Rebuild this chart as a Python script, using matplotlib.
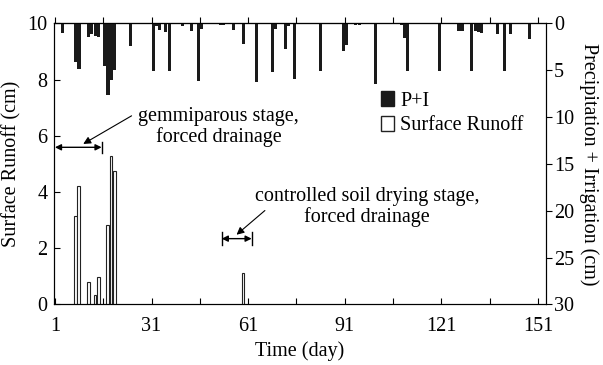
import matplotlib.pyplot as plt
from matplotlib.patches import Patch

plt.rcParams['font.family'] = ['Liberation Serif', 'DejaVu Serif']
plt.rcParams['font.size'] = 14.5

# precipitation + irrigation (cm), day -> depth
pi_days = [3, 7, 8, 11, 12, 13, 14, 16, 17, 18, 19, 24, 31, 32, 33, 35, 36, 40,
           43, 45, 46, 52, 53, 56, 59, 63, 68, 69, 72, 73, 75, 83, 90, 91, 94,
           95, 100, 108, 109, 110, 115, 120, 126, 127, 130, 131, 132, 133, 138,
           140, 142, 148, 149, 150]
pi_vals = [1.05, 4.1, 4.9, 1.5, 1.1, 1.35, 1.45, 4.6, 7.7, 6.0, 5.0, 2.4, 5.1,
           0.3, 0.7, 0.9, 5.1, 0.3, 0.8, 6.1, 0.6, 0.2, 0.2, 0.7, 2.2, 6.3,
           5.2, 0.6, 2.7, 0.3, 5.9, 5.1, 3.0, 2.3, 0.2, 0.2, 6.5, 0.2, 1.6,
           5.1, 0.1, 5.1, 0.8, 0.8, 5.1, 0.8, 0.9, 1.0, 1.1, 5.1, 1.1, 1.7,
           0.1, 0.1]

# surface runoff (cm)
ro_days = [7, 8, 11, 13, 14, 17, 18, 19, 59]
ro_vals = [3.14, 4.2, 0.8, 0.33, 0.98, 2.84, 5.27, 4.76, 1.12]

xticks = list(range(1, 152, 15))
xlabels = [str(t) if (t - 1) % 30 == 0 else '' for t in xticks]

fig = plt.figure(figsize=(6.03, 3.65), dpi=100)
ax = fig.add_axes([0.090, 0.166, 0.815, 0.770])
ax2 = ax.twinx()

ax.bar(ro_days, ro_vals, width=0.85, align='edge', facecolor='white',
       edgecolor='#222222', linewidth=0.8, zorder=3)
ax2.bar(pi_days, pi_vals, width=0.95, align='edge', color='#1a1a1a',
        linewidth=0)

ax.set_xlim(0.8, 153.4)
ax.set_ylim(0, 10)
ax2.set_ylim(30, 0)
ax.set_xticks(xticks)
ax.set_xticklabels(xlabels)
ax.set_yticks(range(0, 11, 2))
ax2.set_yticks(range(0, 31, 5))
ax.tick_params(axis='both', direction='in', length=4, width=0.8)
ax.tick_params(axis='x', pad=9)
ax.tick_params(axis='y', pad=5)
ax2.tick_params(axis='y', direction='out', length=4, width=0.8, pad=2)
top = ax.secondary_xaxis('top')
top.set_xticks(xticks)
top.set_xticklabels([])
top.tick_params(direction='out', length=4, width=0.8)

ax.set_xlabel('Time (day)', labelpad=4)
ax.set_ylabel('Surface Runoff (cm)', labelpad=4)
ax2.set_ylabel('Precipitation + Irrigation (cm)', rotation=-90, labelpad=18)

for s in ['left', 'right', 'bottom', 'top']:
    ax.spines[s].set_linewidth(0.8)
    ax2.spines[s].set_linewidth(0.8)

arr = dict(arrowstyle='<|-|>', color='black', lw=1,
           mutation_scale=9, shrinkA=0, shrinkB=0)
pt = dict(arrowstyle='-|>', color='black', lw=0.8,
          mutation_scale=11, shrinkA=0, shrinkB=0)

# gemmiparous stage
ax.annotate('', xy=(1.0, 5.59), xytext=(15.5, 5.59), arrowprops=arr)
ax.plot([15.5, 15.5], [5.39, 5.79], color='black', lw=1)
ax.annotate('', xy=(9.8, 5.71), xytext=(24.8, 6.71), arrowprops=pt)
ax.text(51.9, 6.32, 'gemmiparous stage,\nforced drainage', ha='center',
        va='center', multialignment='center', linespacing=1.05)

# controlled soil drying stage
ax.annotate('', xy=(52.8, 2.34), xytext=(62.1, 2.34), arrowprops=arr)
ax.plot([52.8, 52.8], [2.12, 2.56], color='black', lw=1)
ax.plot([62.1, 62.1], [2.12, 2.56], color='black', lw=1)
ax.annotate('', xy=(57.4, 2.48), xytext=(66.2, 3.34), arrowprops=pt)
ax.text(97.9, 3.47, 'controlled soil drying stage,\nforced drainage',
        ha='center', va='center', multialignment='center', linespacing=1.05)

handles = [Patch(facecolor='#1a1a1a', edgecolor='#1a1a1a', label='P+I'),
           Patch(facecolor='white', edgecolor='#222222', label='Surface Runoff')]
ax.legend(handles=handles, loc='upper left', bbox_to_anchor=(0.665, 0.76),
          frameon=False, handlelength=0.65, handleheight=0.8,
          handletextpad=0.3, labelspacing=0.25, borderaxespad=0,
          borderpad=0)

plt.savefig('out.png')
